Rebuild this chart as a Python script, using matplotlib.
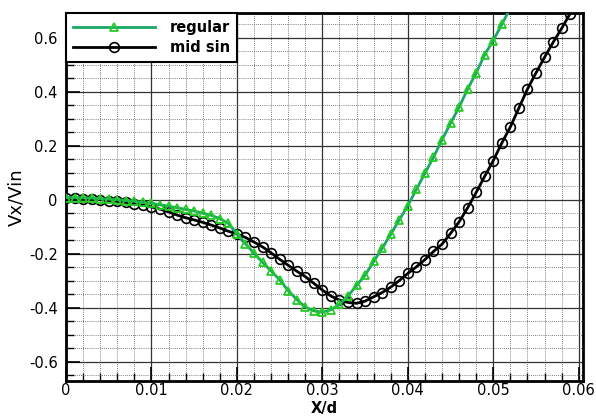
import matplotlib
matplotlib.use("Agg")
import matplotlib.pyplot as plt
from matplotlib.ticker import MultipleLocator, FixedLocator

plt.rcParams['font.family'] = ['DejaVu Sans']
plt.rcParams['axes.unicode_minus'] = False

# ---- data ----
x_regular = [0.000, 0.001, 0.002, 0.003, 0.004, 0.005, 0.006, 0.007, 0.008, 0.009,
             0.010, 0.011, 0.012, 0.013, 0.014, 0.015, 0.016, 0.017, 0.018, 0.019,
             0.020, 0.021, 0.022, 0.023, 0.024, 0.025, 0.026, 0.027, 0.028, 0.029,
             0.030, 0.031, 0.032, 0.033, 0.034, 0.035, 0.036, 0.037, 0.038, 0.039,
             0.040, 0.041, 0.042, 0.043, 0.044, 0.045, 0.046, 0.047, 0.048, 0.049,
             0.050, 0.051, 0.052]
y_regular = [0.008, 0.008, 0.007, 0.006, 0.004, 0.002, 0.000, -0.003, -0.006, -0.010,
             -0.014, -0.019, -0.024, -0.030, -0.036, -0.042, -0.050, -0.058, -0.070, -0.088,
             -0.126, -0.163, -0.199, -0.232, -0.264, -0.297, -0.337, -0.370, -0.398, -0.412,
             -0.417, -0.408, -0.388, -0.357, -0.318, -0.280, -0.229, -0.180, -0.128, -0.075,
             -0.022, 0.038, 0.098, 0.157, 0.222, 0.283, 0.343, 0.410, 0.470, 0.538,
             0.590, 0.650, 0.710]

x_midsin = [0.000, 0.001, 0.002, 0.003, 0.004, 0.005, 0.006, 0.007, 0.008, 0.009,
            0.010, 0.011, 0.012, 0.013, 0.014, 0.015, 0.016, 0.017, 0.018, 0.019,
            0.020, 0.021, 0.022, 0.023, 0.024, 0.025, 0.026, 0.027, 0.028, 0.029,
            0.030, 0.031, 0.032, 0.033, 0.034, 0.035, 0.036, 0.037, 0.038, 0.039,
            0.040, 0.041, 0.042, 0.043, 0.044, 0.045, 0.046, 0.047, 0.048, 0.049,
            0.050, 0.051, 0.052, 0.053, 0.054, 0.055, 0.056, 0.057, 0.058, 0.059]
y_midsin = [0.005, 0.005, 0.004, 0.002, 0.000, -0.003, -0.006, -0.010, -0.015, -0.020,
            -0.027, -0.035, -0.045, -0.057, -0.067, -0.075, -0.084, -0.094, -0.105, -0.117,
            -0.127, -0.140, -0.157, -0.175, -0.197, -0.221, -0.243, -0.265, -0.285, -0.310,
            -0.335, -0.357, -0.372, -0.381, -0.384, -0.376, -0.360, -0.344, -0.324, -0.300,
            -0.273, -0.249, -0.222, -0.192, -0.165, -0.125, -0.082, -0.030, 0.027, 0.087,
            0.145, 0.210, 0.270, 0.340, 0.410, 0.470, 0.528, 0.583, 0.635, 0.690]

xticks = [0, 0.01, 0.02, 0.03, 0.04, 0.05, 0.06]
xtick_labels = ["0", "0.01", "0.02", "0.03", "0.04", "0.05", "0.06"]
yticks = [-0.6, -0.4, -0.2, 0, 0.2, 0.4, 0.6]
ytick_labels = ["-0.6", "-0.4", "-0.2", "0", "0.2", "0.4", "0.6"]

# ---- figure ----
W, H = 596, 416
ax_left, ax_right, ax_top, ax_bottom = 66, 583, 13, 381
fig = plt.figure(figsize=(W / 100, H / 100), dpi=100)
ax = fig.add_axes([ax_left / W, 1 - ax_bottom / H,
                   (ax_right - ax_left) / W, (ax_bottom - ax_top) / H])

green_line = '#19a866'
green_mark = '#22cc22'

ax.plot(x_regular, y_regular, color=green_line, lw=2, marker='^', ms=6,
        mfc='none', mec=green_mark, mew=1.3, label='regular', zorder=4)
ax.plot(x_midsin, y_midsin, color='black', lw=2, marker='o', ms=7,
        mfc='none', mec='black', mew=1.2, label='mid sin', zorder=3)

ax.set_xlim(0, 0.0605)
ax.set_ylim(-0.672, 0.692)

ax.xaxis.set_major_locator(FixedLocator(xticks))
ax.set_xticklabels(xtick_labels)
ax.yaxis.set_major_locator(FixedLocator(yticks))
ax.set_yticklabels(ytick_labels)
ax.xaxis.set_minor_locator(MultipleLocator(0.002))
ax.yaxis.set_minor_locator(MultipleLocator(0.05))

ax.grid(which='major', color='#333333', linestyle='-', linewidth=0.9, zorder=1)
ax.grid(which='minor', color='#555555', linestyle=(0, (1, 1.5)), linewidth=0.6, zorder=1)
ax.set_axisbelow(True)

ax.tick_params(which='major', direction='in', length=10, width=1.2, labelsize=10.5,
               colors='black')
ax.tick_params(axis='y', which='major', pad=6)
ax.tick_params(axis='x', which='major', pad=1.5)
ax.tick_params(which='minor', direction='in', length=6, width=1.0)

for s in ax.spines.values():
    s.set_linewidth(2)
    s.set_color('black')

ax.set_ylabel('Vx/Vin', fontsize=13)
ax.yaxis.set_label_coords(-0.079, 0.5)
ax.set_xlabel('X/d', fontsize=10.5, fontweight='bold', va='bottom')
ax.xaxis.set_label_coords(0.5, (ax_bottom - 415.6) / (ax_bottom - ax_top))

leg = ax.legend(loc='upper left', borderaxespad=0, handlelength=5.6,
                prop={'weight': 'bold', 'size': 10.5}, frameon=True, fancybox=False,
                framealpha=1, edgecolor='black', borderpad=0.5, labelspacing=0.3,
                handletextpad=1.0)
leg.get_frame().set_linewidth(1.5)
leg.set_zorder(10)

fig.savefig('out.png', dpi=100)
